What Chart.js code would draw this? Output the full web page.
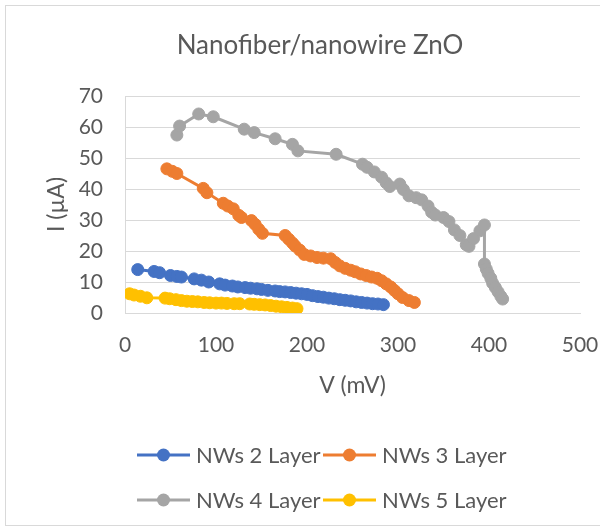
<!DOCTYPE html>
<html>
<head>
<meta charset="utf-8">
<script src="https://cdn.jsdelivr.net/npm/chart.js@4.4.1/dist/chart.umd.min.js"></script>
<style>
  html, body { margin: 0; padding: 0; background: #fff; overflow: hidden; }
  #wrap { width: 600px; height: 531px; position: relative; }
</style>
</head>
<body>
<div id="wrap"><canvas id="iv-chart"></canvas></div>
<script>
const CHART_TITLE = 'Nanofiber/nanowire ZnO';
const X_TITLE = 'V (mV)';
const Y_TITLE = 'I (µA)';
const SERIES_NAMES = ['NWs 2 Layer', 'NWs 3 Layer', 'NWs 4 Layer', 'NWs 5 Layer'];
const SERIES_COLORS = ['#4472C4', '#ED7D31', '#A5A5A5', '#FFC000'];

// NWs 2 Layer
const V2 = [14, 32, 38, 50, 57, 62, 76, 84, 92, 104, 110, 118, 124, 132, 138, 145, 150, 157, 165, 170,
  176, 182, 188, 194, 200, 206, 212, 218, 224, 230, 236, 242, 248, 254, 260, 266, 272, 278, 284];
const I2 = [14.0, 13.4, 13.0, 12.1, 11.8, 11.6, 11.0, 10.6, 10.0, 9.4, 9.0, 8.7, 8.4, 8.2, 8.0, 7.8, 7.6, 7.3, 7.1, 6.9,
  6.8, 6.6, 6.4, 6.2, 6.0, 5.6, 5.3, 5.1, 4.8, 4.6, 4.3, 4.1, 3.9, 3.6, 3.4, 3.2, 3.0, 2.9, 2.7];

// NWs 3 Layer
const V3 = [46, 52, 57, 86, 90, 108, 113, 119, 125, 128, 139, 143, 147, 151, 176, 180, 184, 187, 192, 197,
  204, 211, 218, 226, 231, 236, 242, 248, 253, 259, 265, 271, 277, 282, 287, 292, 296, 300, 305, 312, 318];
const I3 = [46.5, 45.7, 45.0, 40.2, 38.8, 35.4, 34.5, 33.6, 31.5, 30.8, 29.8, 28.6, 27.0, 25.7, 25.0, 23.8, 22.6, 21.6, 20.3, 18.9,
  18.4, 17.9, 17.7, 17.5, 16.3, 15.2, 14.4, 13.8, 13.3, 12.6, 12.1, 11.6, 11.2, 10.4, 9.4, 8.4, 7.3, 6.2, 5.0, 4.0, 3.4];

// NWs 4 Layer
const V4 = [57, 60, 81, 97, 131, 142, 165, 184, 190, 232, 261, 266, 274, 282, 287, 291, 302, 306, 312, 320,
  326, 333, 337, 341, 350, 356, 362, 368, 375, 378, 383, 390, 395, 395, 397, 399, 402, 404, 407, 410, 413, 415];
const I4 = [57.4, 60.3, 64.2, 63.3, 59.3, 58.2, 56.2, 54.4, 52.3, 51.2, 48.0, 47.0, 45.5, 43.8, 42.0, 40.8, 41.6, 39.8, 37.8, 37.2,
  36.5, 34.5, 32.5, 31.6, 30.8, 29.5, 26.8, 25.0, 22.0, 21.5, 24.0, 26.5, 28.4, 15.8, 14.2, 12.8, 11.2, 9.6, 8.2, 6.8, 5.4, 4.5];

// NWs 5 Layer
const V5 = [5, 10, 17, 24, 44, 49, 56, 62, 68, 74, 80, 87, 93, 100, 106, 112, 120, 126, 137, 142,
  148, 154, 160, 166, 172, 178, 184, 189];
const I5 = [6.2, 5.8, 5.4, 4.9, 4.8, 4.6, 4.3, 4.0, 3.8, 3.7, 3.6, 3.4, 3.3, 3.2, 3.2, 3.1, 3.0, 3.0, 2.9, 2.8,
  2.7, 2.6, 2.4, 2.2, 2.0, 1.8, 1.6, 1.4];

const X_TICKS = [0, 100, 200, 300, 400, 500];
const Y_TICKS = [0, 10, 20, 30, 40, 50, 60, 70];

const FONT = 'Lato, "Open Sans", sans-serif';
const TEXT_COLOR = '#595959';

function toPoints(xs, ys) {
  return xs.map((x, i) => ({ x: x, y: ys[i] }));
}

const allV = [V2, V3, V4, V5];
const allI = [I2, I3, I4, I5];

const datasets = SERIES_NAMES.map((name, k) => ({
  label: name,
  data: toPoints(allV[k], allI[k]),
  showLine: true,
  borderColor: SERIES_COLORS[k],
  backgroundColor: SERIES_COLORS[k],
  borderWidth: 3,
  pointRadius: 6,
  pointBorderWidth: 1,
  pointBorderColor: SERIES_COLORS[k],
  pointBackgroundColor: SERIES_COLORS[k],
  order: 3 - k
}));

// title, legend and frame drawn like the Excel chart
const excelDecor = {
  id: 'excelDecor',
  beforeDraw(chart) {
    const ctx = chart.ctx;
    ctx.save();
    ctx.strokeStyle = '#d9d9d9';
    ctx.lineWidth = 1;
    ctx.strokeRect(5.5, 5.5, 640, 520);
    ctx.restore();
  },
  afterDraw(chart) {
    const ctx = chart.ctx;
    ctx.save();
    ctx.fillStyle = TEXT_COLOR;
    ctx.font = '26px ' + FONT;
    ctx.textAlign = 'center';
    ctx.textBaseline = 'middle';
    ctx.fillText(CHART_TITLE, 320, 46);

    const cols = [137, 323];
    const rows = [455, 500];
    ctx.font = '22px ' + FONT;
    ctx.textAlign = 'left';
    SERIES_NAMES.forEach((name, k) => {
      const x0 = cols[k % 2];
      const y = rows[Math.floor(k / 2)];
      ctx.strokeStyle = SERIES_COLORS[k];
      ctx.lineWidth = 3;
      ctx.beginPath();
      ctx.moveTo(x0, y);
      ctx.lineTo(x0 + 53, y);
      ctx.stroke();
      ctx.fillStyle = SERIES_COLORS[k];
      ctx.beginPath();
      ctx.arc(x0 + 26.5, y, 6.5, 0, Math.PI * 2);
      ctx.fill();
      ctx.fillStyle = TEXT_COLOR;
      ctx.fillText(name, x0 + 59, y + 1);
    });
    ctx.restore();
  }
};

new Chart(document.getElementById('iv-chart'), {
  type: 'scatter',
  data: { datasets: datasets },
  plugins: [excelDecor],
  options: {
    responsive: true,
    maintainAspectRatio: false,
    animation: false,
    layout: { padding: { top: 96, right: 20, bottom: 118, left: 0 } },
    plugins: {
      legend: { display: false },
      title: { display: false },
      tooltip: { enabled: false }
    },
    scales: {
      x: {
        type: 'linear',
        min: X_TICKS[0],
        max: X_TICKS[X_TICKS.length - 1],
        afterBuildTicks: s => { s.ticks = X_TICKS.map(v => ({ value: v })); },
        afterFit: s => { s.height = 100; s.paddingLeft = 0; s.paddingRight = 0; },
        grid: { display: false, drawTicks: false },
        border: { display: true, color: '#d9d9d9', width: 1 },
        ticks: { color: TEXT_COLOR, font: { family: FONT, size: 21 }, padding: 20, maxRotation: 0 },
        title: {
          display: true, text: X_TITLE, color: TEXT_COLOR,
          font: { family: FONT, size: 23 }, padding: { top: 0, bottom: 14 }
        }
      },
      y: {
        type: 'linear',
        min: Y_TICKS[0],
        max: Y_TICKS[Y_TICKS.length - 1],
        afterBuildTicks: s => { s.ticks = Y_TICKS.map(v => ({ value: v })); },
        afterFit: s => { s.width = 125; s.paddingTop = 0; s.paddingBottom = 0; },
        grid: { color: '#d9d9d9', lineWidth: 1, drawTicks: false },
        border: { display: true, color: '#d9d9d9', width: 1 },
        ticks: { color: TEXT_COLOR, font: { family: FONT, size: 21 }, padding: 22 },
        title: {
          display: true, text: Y_TITLE, color: TEXT_COLOR,
          font: { family: FONT, size: 23 }, padding: { top: 43, bottom: 0 }
        }
      }
    }
  }
});
</script>
</body>
</html>
